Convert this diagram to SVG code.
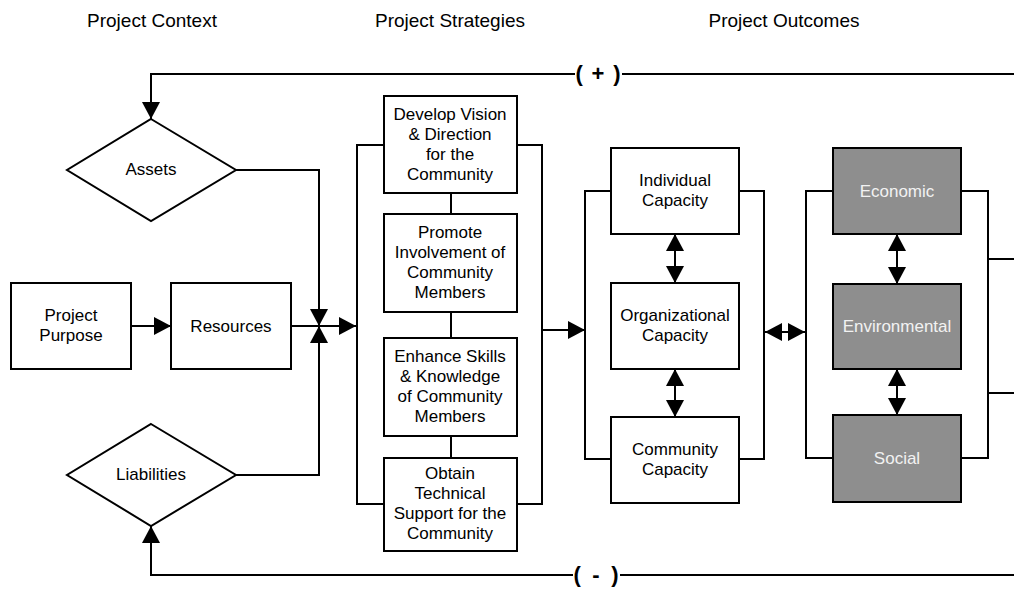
<svg xmlns="http://www.w3.org/2000/svg" width="1014" height="591" viewBox="0 0 1014 591">
<style>
.box{fill:#fff;stroke:#000;stroke-width:2}
.dark{fill:#8e8e8e;stroke:#000;stroke-width:2}
.ln{fill:none;stroke:#000;stroke-width:2}
.t{font-family:"Liberation Sans",Arial,sans-serif;font-size:17px;fill:#000;text-anchor:middle}
.tw{font-family:"Liberation Sans",Arial,sans-serif;font-size:17px;fill:#f2f2f2;text-anchor:middle}
.h{font-family:"Liberation Sans",Arial,sans-serif;font-size:19px;fill:#000;text-anchor:middle}
.sg{font-family:"Liberation Sans",Arial,sans-serif;font-size:22px;font-weight:bold;fill:#000;text-anchor:middle}
</style>
<defs>
<marker id="ah" viewBox="0 0 17 18" refX="17" refY="9" markerWidth="17" markerHeight="18" markerUnits="userSpaceOnUse" orient="auto-start-reverse">
<path d="M0,0 L17,9 L0,18 Z" fill="#000"/>
</marker>
</defs>
<rect width="1014" height="591" fill="#fff"/>

<g id="headers">
<text class="h" x="152" y="27">Project Context</text>
<text class="h" x="450" y="27">Project Strategies</text>
<text class="h" x="784" y="27">Project Outcomes</text>
</g>

<g id="connectors">
<path class="ln" d="M1014,74 H622 M575,74 H151 V119" marker-end="url(#ah)"/>
<path class="ln" d="M1014,575 H620 M573,575 H151 V526" marker-end="url(#ah)"/>
<path class="ln" d="M131,326 H171" marker-end="url(#ah)"/>
<path class="ln" d="M236,170 H319 V326" marker-end="url(#ah)"/>
<path class="ln" d="M236,475 H319 V326" marker-end="url(#ah)"/>
<path class="ln" d="M291,326 H356" marker-end="url(#ah)"/>
<path class="ln" d="M384,145 H357 V504 H384 M517,145 H542 V504 H517"/>
<path class="ln" d="M451,193 V214 M451,312 V338 M451,436 V458"/>
<path class="ln" d="M542,330 H585" marker-end="url(#ah)"/>
<path class="ln" d="M611,191 H585 V459 H611 M739,191 H764 V459 H739"/>
<path class="ln" d="M675,234 V283" marker-start="url(#ah)" marker-end="url(#ah)"/>
<path class="ln" d="M675,369 V417" marker-start="url(#ah)" marker-end="url(#ah)"/>
<path class="ln" d="M765,332 H805" marker-start="url(#ah)" marker-end="url(#ah)"/>
<path class="ln" d="M833,191 H806 V458 H833 M961,191 H988 V458 H961 M988,259 H1014 M988,393 H1014"/>
<path class="ln" d="M897,234 V284" marker-start="url(#ah)" marker-end="url(#ah)"/>
<path class="ln" d="M897,369 V415" marker-start="url(#ah)" marker-end="url(#ah)"/>
<text class="sg" x="598" y="81" textLength="45" lengthAdjust="spacing">( + )</text>
<text class="sg" x="596" y="582" textLength="45" lengthAdjust="spacing">( - )</text>
</g>

<g id="assets">
<polygon class="box" points="151,119 236,170 151,221 67,170"/>
<text class="t" x="151" y="175">Assets</text>
</g>
<g id="liabilities">
<polygon class="box" points="151,424 236,475 151,526 67,475"/>
<text class="t" x="151" y="480">Liabilities</text>
</g>
<g id="project-purpose">
<rect class="box" x="11" y="283" width="120" height="86"/>
<text class="t" x="71" y="321">Project</text>
<text class="t" x="71" y="341">Purpose</text>
</g>
<g id="resources">
<rect class="box" x="171" y="283" width="120" height="86"/>
<text class="t" x="231" y="332">Resources</text>
</g>

<g id="vision">
<rect class="box" x="384" y="96" width="133" height="97"/>
<text class="t" x="450" y="120">Develop Vision</text>
<text class="t" x="450" y="140">&amp; Direction</text>
<text class="t" x="450" y="160">for the</text>
<text class="t" x="450" y="180">Community</text>
</g>
<g id="involvement">
<rect class="box" x="384" y="214" width="133" height="98"/>
<text class="t" x="450" y="238">Promote</text>
<text class="t" x="450" y="258">Involvement of</text>
<text class="t" x="450" y="278">Community</text>
<text class="t" x="450" y="298">Members</text>
</g>
<g id="skills">
<rect class="box" x="384" y="338" width="133" height="98"/>
<text class="t" x="450" y="362">Enhance Skills</text>
<text class="t" x="450" y="382">&amp; Knowledge</text>
<text class="t" x="450" y="402">of Community</text>
<text class="t" x="450" y="422">Members</text>
</g>
<g id="technical">
<rect class="box" x="384" y="458" width="133" height="93"/>
<text class="t" x="450" y="479">Obtain</text>
<text class="t" x="450" y="499">Technical</text>
<text class="t" x="450" y="519">Support for the</text>
<text class="t" x="450" y="539">Community</text>
</g>

<g id="individual">
<rect class="box" x="611" y="148" width="128" height="86"/>
<text class="t" x="675" y="186">Individual</text>
<text class="t" x="675" y="206">Capacity</text>
</g>
<g id="organizational">
<rect class="box" x="611" y="283" width="128" height="86"/>
<text class="t" x="675" y="321">Organizational</text>
<text class="t" x="675" y="341">Capacity</text>
</g>
<g id="community">
<rect class="box" x="611" y="417" width="128" height="86"/>
<text class="t" x="675" y="455">Community</text>
<text class="t" x="675" y="475">Capacity</text>
</g>

<g id="economic">
<rect class="dark" x="833" y="148" width="128" height="86"/>
<text class="tw" x="897" y="197">Economic</text>
</g>
<g id="environmental">
<rect class="dark" x="833" y="284" width="128" height="85"/>
<text class="tw" x="897" y="332">Environmental</text>
</g>
<g id="social">
<rect class="dark" x="833" y="415" width="128" height="87"/>
<text class="tw" x="897" y="464">Social</text>
</g>
</svg>
